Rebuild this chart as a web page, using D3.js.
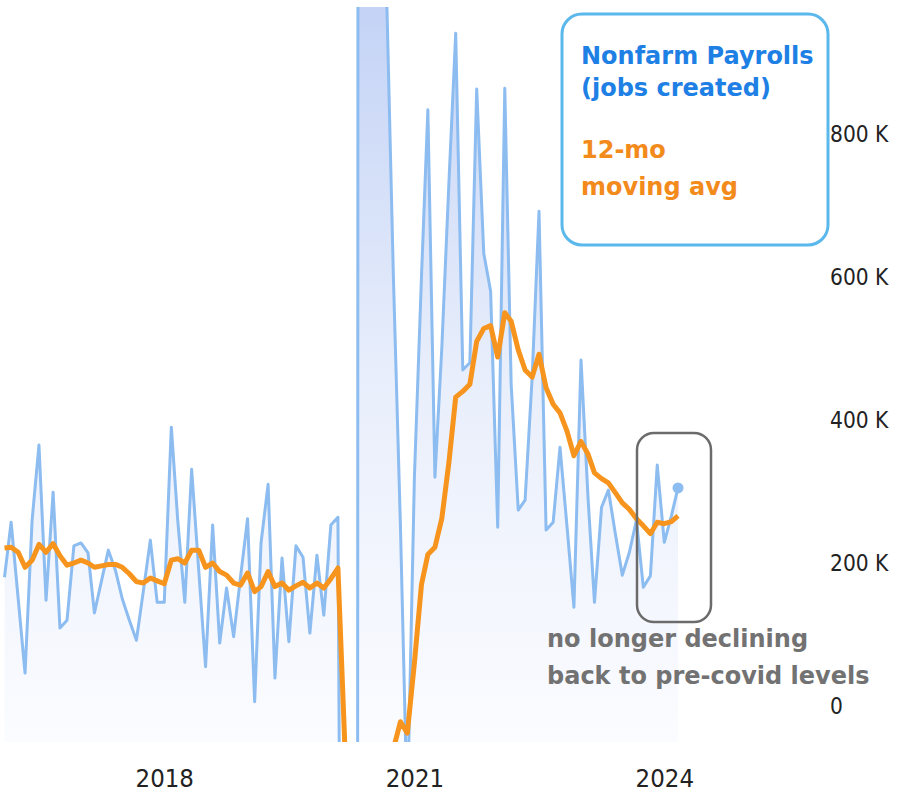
<!DOCTYPE html>
<html>
<head>
<meta charset="utf-8">
<script src="https://cdn.jsdelivr.net/npm/d3@7"></script>
<style>
body { margin: 0; background: #fff; }
svg { display: block; }
</style>
</head>
<body>
<svg id="chart" width="898" height="803"></svg>
<script>
// monthly change in nonfarm payrolls (thousands), Feb 2016 .. Mar 2024
var payrolls = [
  180, 257, 150, 46, 260, 365, 148, 299, 109, 120,
  224, 228, 214, 130, 175, 218, 190, 150, 120, 92,
  160, 232, 145, 145, 390, 260, 145, 331, 190, 55,
  253, 88, 165, 97, 180, 262, 6, 228, 310, 39,
  207, 90, 224, 208, 102, 211, 127, 253, 264, -1373,
  -20493, 2800, 4600, 1600, 1700, 1000, 600, 250, -150, 320,
  600, 834, 320, 500, 730, 941, 470, 480, 863, 633,
  580, 250, 864, 450, 274, 288, 460, 692, 246, 257,
  362, 250, 138, 484, 290, 145, 278, 302, 240, 183,
  215, 260, 166, 182, 337, 229, 266, 305
];
// 12-month moving average as drawn (thousands)
var movingAvg = [
  221, 222, 215, 194, 204, 226, 215, 227, 210, 197,
  200, 204, 200, 194, 196, 198, 198, 194, 185, 174,
  172, 179, 175, 171, 204, 206, 200, 218, 218, 194,
  200, 188, 183, 172, 169, 186, 160, 167, 188, 167,
  172, 162, 168, 173, 165, 172, 165, 178, 193, -45,
  -1600, -1400, -1200, -1000, -800, -400, -60, -22, -38, 60,
  170, 212, 222, 262, 340, 432, 440, 450, 510, 528,
  532, 488, 550, 538, 498, 470, 460, 492, 445, 422,
  410, 384, 350, 370, 352, 326, 318, 312, 298, 284,
  275, 262, 252, 241, 257, 255, 258, 266
];
var yTicks = [0, 200, 400, 600, 800];
var xTicks = [2018, 2021, 2024];
var legendBlue = ["Nonfarm Payrolls", "(jobs created)"];
var legendOrange = ["12-mo", "moving avg"];
var noteLines = ["no longer declining", "back to pre-covid levels"];

var months = d3.timeMonth.range(new Date(2016, 1, 1), new Date(2024, 3, 1));
var rows = months.map(function(m, i) {
  return { date: m, jobs: payrolls[i], avg: movingAvg[i] };
});

var svg = d3.select('#chart');
var plotTop = 7, plotBottom = 742;

var x = d3.scaleTime()
  .domain([months[0], months[months.length - 1]])
  .range([4.5, 678]);
var y = d3.scaleLinear()
  .domain([0, 800])
  .range([706, 134]);

var defs = svg.append('defs');
defs.append('clipPath').attr('id', 'plotclip')
  .append('rect')
  .attr('x', 0).attr('y', plotTop)
  .attr('width', 898).attr('height', plotBottom - plotTop);

var grad = defs.append('linearGradient')
  .attr('id', 'fillgrad')
  .attr('gradientUnits', 'userSpaceOnUse')
  .attr('x1', 0).attr('x2', 0)
  .attr('y1', plotTop).attr('y2', plotBottom);
grad.append('stop').attr('offset', 0).attr('stop-color', '#c4d3f6');
grad.append('stop').attr('offset', 0.5).attr('stop-color', '#e8eefb');
grad.append('stop').attr('offset', 1).attr('stop-color', '#fbfcff');

var plot = svg.append('g').attr('clip-path', 'url(#plotclip)');

var area = d3.area()
  .x(function(d) { return x(d.date); })
  .y0(plotBottom)
  .y1(function(d) { return y(d.jobs); });

plot.append('path')
  .datum(rows)
  .attr('d', area)
  .attr('fill', 'url(#fillgrad)');

plot.append('path')
  .datum(rows)
  .attr('d', d3.line()
    .x(function(d) { return x(d.date); })
    .y(function(d) { return y(d.jobs); }))
  .attr('fill', 'none')
  .attr('stroke', '#8cbcf0')
  .attr('stroke-width', 3)
  .attr('stroke-linejoin', 'round');

plot.append('path')
  .datum(rows)
  .attr('d', d3.line()
    .x(function(d) { return x(d.date); })
    .y(function(d) { return y(d.avg); }))
  .attr('fill', 'none')
  .attr('stroke', '#f7941d')
  .attr('stroke-width', 5)
  .attr('stroke-linejoin', 'round');

var last = rows[rows.length - 1];
plot.append('circle')
  .attr('cx', x(last.date))
  .attr('cy', y(last.jobs))
  .attr('r', 5.5)
  .attr('fill', '#8cbcf0');

// axes
var axisFont = '"DejaVu Sans Condensed", "DejaVu Sans", sans-serif';
var yAxis = d3.axisRight(y)
  .tickValues(yTicks)
  .tickSize(0)
  .tickPadding(0)
  .tickFormat(function(v) { return v === 0 ? '0' : v + ' K'; });
var gy = svg.append('g')
  .attr('transform', 'translate(830,0)')
  .call(yAxis);
gy.select('.domain').remove();
gy.selectAll('text')
  .attr('font-family', axisFont)
  .attr('font-size', 22.5)
  .attr('fill', '#222');

var xAxis = d3.axisBottom(x)
  .tickValues(xTicks.map(function(yr) { return new Date(yr, 0, 1); }))
  .tickSize(0)
  .tickPadding(0)
  .tickFormat(d3.timeFormat('%Y'));
var gx = svg.append('g')
  .attr('transform', 'translate(0,769)')
  .call(xAxis);
gx.select('.domain').remove();
gx.selectAll('text')
  .attr('font-family', axisFont)
  .attr('font-size', 25.5)
  .attr('fill', '#222');

// legend box
svg.append('rect')
  .attr('x', 562).attr('y', 14)
  .attr('width', 266).attr('height', 231)
  .attr('rx', 20)
  .attr('fill', '#fff')
  .attr('stroke', '#5bb8ec')
  .attr('stroke-width', 3);

var legFont = '"DejaVu Sans", sans-serif';
svg.selectAll('.leg-blue')
  .data(legendBlue).enter()
  .append('text')
  .attr('x', 581)
  .attr('y', function(d, i) { return 64 + i * 32; })
  .attr('font-family', legFont)
  .attr('font-weight', 'bold')
  .attr('font-size', 24)
  .attr('fill', '#1e80e4')
  .text(function(d) { return d; });
svg.selectAll('.leg-orange')
  .data(legendOrange).enter()
  .append('text')
  .attr('x', 581)
  .attr('y', function(d, i) { return 158 + i * 37; })
  .attr('font-family', legFont)
  .attr('font-weight', 'bold')
  .attr('font-size', 24)
  .attr('fill', '#f28a1c')
  .text(function(d) { return d; });

// annotation
svg.append('rect')
  .attr('x', 637).attr('y', 433)
  .attr('width', 74).attr('height', 189)
  .attr('rx', 17)
  .attr('fill', 'none')
  .attr('stroke', '#6b6b6b')
  .attr('stroke-width', 2.5);

svg.selectAll('.note')
  .data(noteLines).enter()
  .append('text')
  .attr('x', 547)
  .attr('y', function(d, i) { return 647 + i * 37; })
  .attr('font-family', legFont)
  .attr('font-weight', 'bold')
  .attr('font-size', 24)
  .attr('fill', '#727272')
  .text(function(d) { return d; });
</script>
</body>
</html>
